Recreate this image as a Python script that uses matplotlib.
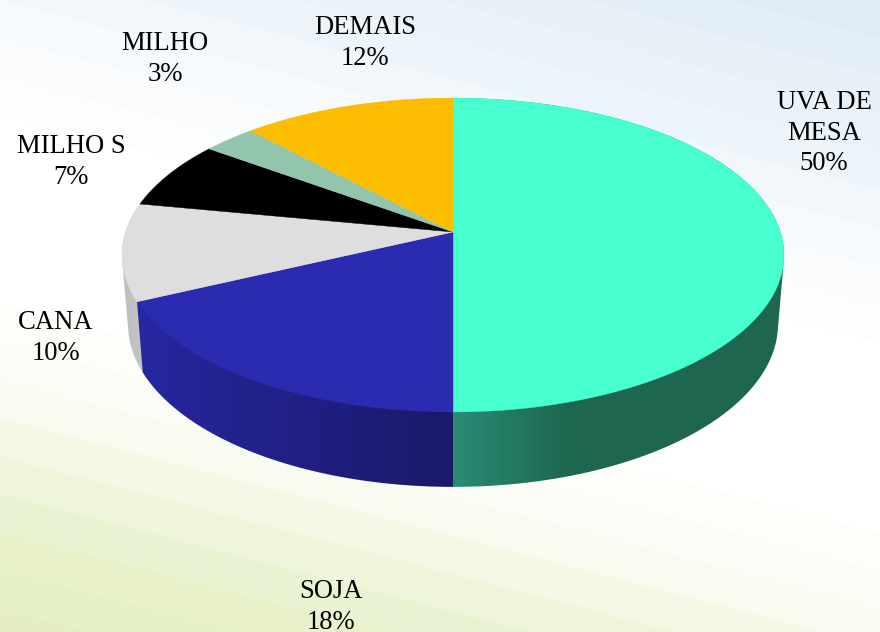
import numpy as np
import matplotlib
matplotlib.use("Agg")
import matplotlib.pyplot as plt
from matplotlib.patches import Polygon
from matplotlib.colors import LinearSegmentedColormap, to_rgb

# data
categories = ["UVA DE\nMESA", "SOJA", "CANA", "MILHO S", "MILHO", "DEMAIS"]
shares = [50, 18, 10, 7, 3, 12]
colors = ["#48FFD0", "#2A2BB0", "#DEDEDE", "#000000", "#92C5AC", "#FCBD00"]

# layout (pixels)
W, H = 880, 632
label_xy = [(824, 133), (331, 607), (56, 338), (71, 162), (165, 59), (365, 43)]
CX = 453
TOP = dict(y0=232, a=153.6, b=327.4)
BOT = dict(y0=300, a=159.5, b=321.5)
K = 0.1465


def rim(frac, p):
    th = 2 * np.pi * np.asarray(frac, float)
    x, y = np.sin(th), np.cos(th)
    d = 1 + K * y
    return np.column_stack([CX + p["b"] * x / d, p["y0"] - p["a"] * y / d])


def hull(pts):
    pts = sorted(map(tuple, pts))
    def half(seq):
        out = []
        for q in seq:
            while len(out) > 1 and ((out[-1][0]-out[-2][0])*(q[1]-out[-2][1])
                                    - (out[-1][1]-out[-2][1])*(q[0]-out[-2][0])) <= 0:
                out.pop()
            out.append(q)
        return out
    lo, up = half(pts), half(pts[::-1])
    return np.array(lo[:-1] + up[:-1])


fig = plt.figure(figsize=(W / 100, H / 100), dpi=100)
ax = fig.add_axes([0, 0, 1, 1])
ax.set_xlim(0, W)
ax.set_ylim(H, 0)
ax.axis("off")

# backdrop: slanted pale bands
xx, yy = np.meshgrid(np.arange(W) + .5, np.arange(H) + .5)
u = np.floor((yy - 0.26 * xx) / 38) * 38
stops_u = [-238, -120, 0, 110, 270, 380, 450, 510, 632]
stops_c = np.array([to_rgb(c) for c in ["#DFECF5", "#EAF3F9", "#F6FAFD", "#FFFFFF",
                                         "#FFFFFF", "#F9FBF0", "#F0F6DC", "#E9F2CD",
                                         "#E4EEC0"]])
bg = np.dstack([np.interp(u, stops_u, stops_c[:, i]) for i in range(3)])
ax.imshow(bg, extent=(0, W, H, 0), aspect="auto", zorder=0, interpolation="bilinear")

cum = np.concatenate([[0], np.cumsum(shares)]) / sum(shares)

# walls
walls = {
    2: ["#BDBDBD", "#C6C6C6", (120, 145)],
    1: ["#2626A0", "#1A1A68", (143, 453)],
    0: ["#2A8C74", "#1E6650", (453, 570)],
}
for i, (c0, c1, (x0, x1)) in walls.items():
    f = np.linspace(cum[i], cum[i + 1], 160)
    poly = Polygon(hull(np.vstack([rim(f, TOP), rim(f, BOT)])), closed=True,
                   transform=ax.transData, fc="none", ec="none")
    ax.add_patch(poly)
    cmap = LinearSegmentedColormap.from_list("w", [c0, c1])
    g = np.clip((np.arange(W) + .5 - x0) / (x1 - x0), 0, 1)[None, :]
    im = ax.imshow(g, cmap=cmap, vmin=0, vmax=1, extent=(0, W, H, 0),
                   aspect="auto", zorder=2, interpolation="nearest")
    im.set_clip_path(poly)
    poly.set_zorder(2)

# top face
apex = np.array([[CX, TOP["y0"]]])
for i, c in enumerate(colors):
    f = np.linspace(cum[i], cum[i + 1], 200)
    ax.add_patch(Polygon(np.vstack([apex, rim(f, TOP)]), closed=True, fc=c, ec=c,
                         lw=0.3, zorder=3))

ax.set_xlim(0, W)
ax.set_ylim(H, 0)

for name, s, (x, y) in zip(categories, shares, label_xy):
    ax.text(x, y, f"{name}\n{s}%", ha="center", va="center", multialignment="center",
            family="Liberation Serif", fontsize=19.2, color="black", linespacing=1.29,
            zorder=5)

fig.savefig("out.png", dpi=100)
